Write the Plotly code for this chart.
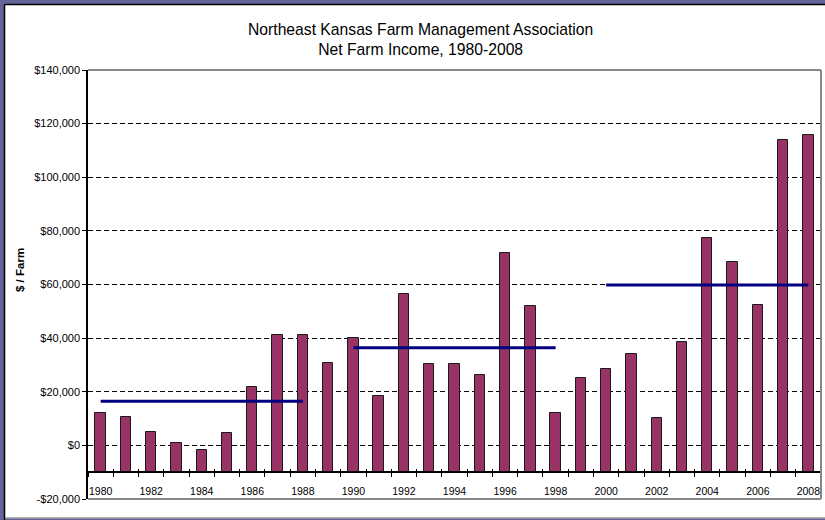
import plotly.graph_objects as go

years = list(range(1980, 2009))
net_income = [11900, 10400, 5100, 900, -1900, 4500, 21700, 41300, 41300, 30900,
              40200, 18600, 56500, 30500, 30200, 26200, 71700, 51800, 12200, 25200,
              28450, 33900, 10060, 38500, 77500, 68500, 52300, 113900, 115600]
period_starts = [1980, 1990, 2000]
period_ends = [1988, 1998, 2008]
period_avgs = [16500, 36400, 59800]
y_ticks = list(range(-20000, 140001, 20000))
x_label_years = list(range(1980, 2009, 2))

AXIS_BASE = -10000
Y_MIN, Y_MAX = -20000, 140000

def money(v):
    return ("-$" if v < 0 else "$") + f"{abs(v):,}"

FONT = "Liberation Sans, Arial, sans-serif"
W, H = 825, 520
ML, MR, MT, MB = 88, 4, 70, 21
PW, PH = W - ML - MR, H - MT - MB

def px_x(p):
    return (p - ML) / PW

def px_y(p):
    return (H - MB - p) / PH

fig = go.Figure()

fig.add_trace(go.Bar(
    x=years, y=[v - AXIS_BASE for v in net_income], base=AXIS_BASE,
    width=0.41, marker=dict(color="#993366", line=dict(color="#1a1a1a", width=1)),
    showlegend=False, hoverinfo="skip"))

for s, e, a in zip(period_starts, period_ends, period_avgs):
    fig.add_trace(go.Scatter(x=[s, e], y=[a, a], mode="lines",
                             line=dict(color="#000080", width=3),
                             showlegend=False, hoverinfo="skip"))

# invisible trace to carry overlay axes for crossing ticks
fig.add_trace(go.Scatter(x=[years[0]], y=[0], xaxis="x2", yaxis="y2",
                         mode="markers", marker=dict(opacity=0),
                         showlegend=False, hoverinfo="skip"))

xr = [years[0] - 0.5, years[-1] + 0.5]
base_frac = (AXIS_BASE - Y_MIN) / (Y_MAX - Y_MIN)

fig.update_layout(
    width=W, height=H,
    margin=dict(l=ML, r=MR, t=MT, b=MB, pad=0),
    paper_bgcolor="#64649A",
    plot_bgcolor="rgba(0,0,0,0)",
    font=dict(family=FONT, color="black", size=11),
    bargap=0,
    xaxis=dict(range=xr, anchor="free", position=base_frac,
               tickvals=x_label_years, ticktext=[str(y) for y in x_label_years],
               ticks="", showgrid=False, zeroline=False,
               showline=True, linecolor="black", linewidth=1.5,
               tickfont=dict(size=10.5, family=FONT),
               ticklabelstandoff=9,
               minor=dict(tick0=years[0] - 0.5, dtick=1, ticks="outside",
                          ticklen=4, tickcolor="black", tickwidth=1, showgrid=False)),
    xaxis2=dict(range=xr, overlaying="x", anchor="free", position=base_frac,
                tick0=years[0] - 0.5, dtick=1, ticks="inside", ticklen=3,
                tickcolor="black", showticklabels=False, showgrid=False,
                zeroline=False, showline=False),
    yaxis=dict(range=[Y_MIN, Y_MAX], tickvals=y_ticks,
               ticktext=[money(v) for v in y_ticks],
               ticks="outside", ticklen=4, tickcolor="black", tickwidth=1,
               showline=True, linecolor="black", linewidth=1.5,
               showgrid=True, gridcolor="black", gridwidth=1, griddash="5px,3px",
               zeroline=False, tickfont=dict(size=11, family=FONT)),
    yaxis2=dict(range=[Y_MIN, Y_MAX], overlaying="y", tickvals=y_ticks,
                ticks="inside", ticklen=3, tickcolor="black",
                showticklabels=False, showgrid=False, zeroline=False,
                showline=False),
)

shapes = [
    # white chart area
    dict(type="rect", xref="paper", yref="paper", layer="below",
         x0=px_x(5), x1=px_x(835), y0=px_y(518), y1=px_y(5),
         fillcolor="white", line=dict(width=0)),
    dict(type="line", xref="paper", yref="paper", x0=px_x(4.5), x1=px_x(835),
         y0=px_y(4.5), y1=px_y(4.5), line=dict(color="black", width=1.5)),
    dict(type="line", xref="paper", yref="paper", x0=px_x(4.5), x1=px_x(4.5),
         y0=px_y(4.5), y1=px_y(530), line=dict(color="black", width=1.5)),
    dict(type="line", xref="paper", yref="paper", x0=px_x(5), x1=px_x(835),
         y0=px_y(518), y1=px_y(518), line=dict(color="#999999", width=1.5)),
    # plot area gray border
    dict(type="line", xref="paper", yref="paper", x0=0, x1=1, y0=1, y1=1,
         line=dict(color="#888888", width=2)),
    dict(type="line", xref="paper", yref="paper", x0=1, x1=1, y0=0, y1=1,
         line=dict(color="#888888", width=2)),
    dict(type="line", xref="paper", yref="paper", x0=0, x1=1, y0=0, y1=0,
         line=dict(color="#888888", width=2)),
]
fig.update_layout(shapes=shapes)

fig.add_annotation(xref="paper", yref="paper", x=px_x(420.5), y=px_y(40),
                   text="Northeast Kansas Farm Management Association<br>Net Farm Income, 1980-2008",
                   showarrow=False, xanchor="center", yanchor="middle",
                   font=dict(family=FONT, size=15.7, color="black"))
fig.add_annotation(xref="paper", yref="paper", x=px_x(20), y=px_y(270),
                   text="<b>$ / Farm</b>", textangle=-90, showarrow=False,
                   xanchor="center", yanchor="middle",
                   font=dict(family=FONT, size=11.5, color="black"))

fig.write_html("out.html", config={"displayModeBar": False},
               post_script="document.body.style.margin='0';document.body.style.overflow='hidden';")
